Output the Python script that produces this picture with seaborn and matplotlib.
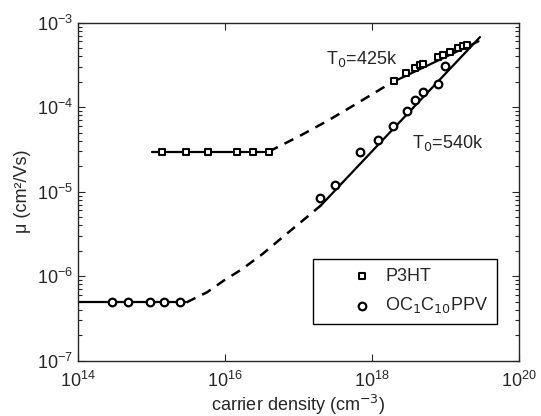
#!/usr/bin/env python3

import numpy as np
import pandas as pd
import seaborn as sns
import matplotlib.pyplot as plt

# values as log10 of density / mobility
p3ht_logn = [15.15, 15.48, 15.77, 16.17, 16.39, 16.60,
             18.30, 18.47, 18.59, 18.65, 18.70, 18.90, 18.97, 19.06, 19.17, 19.24, 19.30]
p3ht_logmu = [-4.525, -4.525, -4.525, -4.525, -4.525, -4.525,
              -3.686, -3.60, -3.54, -3.50, -3.49, -3.41, -3.38, -3.35, -3.30, -3.28, -3.26]

ppv_logn = [14.47, 14.69, 14.99, 15.18, 15.39,
            17.30, 17.50, 17.84, 18.08, 18.29, 18.48, 18.59, 18.69, 18.90, 18.99]
ppv_logmu = [-6.31, -6.31, -6.31, -6.31, -6.31,
             -5.08, -4.92, -4.525, -4.39, -4.22, -4.04, -3.92, -3.82, -3.72, -3.51]

# fit lines (solid) and model curves (dashed)
p3ht_flat_logn = [15.01, 16.60]
p3ht_flat_logmu = [-4.525, -4.525]
p3ht_fit_logn = [18.29, 19.45]
p3ht_fit_logmu = [-3.70, -3.22]
p3ht_dash_logn = [16.60, 17.02, 17.40, 17.77, 18.15, 18.29]
p3ht_dash_logmu = [-4.525, -4.34, -4.16, -3.97, -3.77, -3.70]

ppv_flat_logn = [14.0, 15.48]
ppv_flat_logmu = [-6.31, -6.31]
ppv_fit_logn = [17.31, 19.47]
ppv_fit_logmu = [-5.16, -3.17]
ppv_dash_logn = [15.48, 15.76, 15.99, 16.23, 16.51, 16.84, 17.16, 17.31]
ppv_dash_logmu = [-6.31, -6.19, -6.05, -5.92, -5.74, -5.50, -5.27, -5.16]


def frame(logn, logmu):
    return pd.DataFrame({"n": np.power(10.0, logn), "mu": np.power(10.0, logmu)})


sns.set_style("ticks")
plt.rcParams["font.family"] = ["Liberation Sans", "DejaVu Sans"]
plt.rcParams["font.size"] = 13
plt.rcParams["xtick.direction"] = "in"
plt.rcParams["ytick.direction"] = "in"

fig = plt.figure(figsize=(5.41, 4.16), dpi=100)
ax = fig.add_axes([0.1433, 0.1329, 0.816, 0.8125])
ax.set_xscale("log")
ax.set_yscale("log")

line_kw = dict(x="n", y="mu", color="black", sort=False, estimator=None, ax=ax, legend=False)
for xs, ys in [(p3ht_flat_logn, p3ht_flat_logmu), (p3ht_fit_logn, p3ht_fit_logmu),
               (ppv_flat_logn, ppv_flat_logmu), (ppv_fit_logn, ppv_fit_logmu)]:
    sns.lineplot(data=frame(xs, ys), linewidth=1.6, **line_kw)
for xs, ys in [(p3ht_dash_logn, p3ht_dash_logmu), (ppv_dash_logn, ppv_dash_logmu)]:
    sns.lineplot(data=frame(xs, ys), linewidth=1.8, linestyle=(0, (4, 3)), **line_kw)

sns.scatterplot(data=frame(p3ht_logn, p3ht_logmu), x="n", y="mu", marker="s", s=18,
                facecolor="white", edgecolor="black", linewidth=1.5, ax=ax, label="P3HT", zorder=3)
sns.scatterplot(data=frame(ppv_logn, ppv_logmu), x="n", y="mu", marker="o", s=30,
                facecolor="white", edgecolor="black", linewidth=1.6, ax=ax,
                label="OC$_1$C$_{10}$PPV", zorder=3)

ax.text(10 ** 17.375, 10 ** -3.43, "T$_0$=425k", fontsize=13, va="center", ha="left")
ax.text(10 ** 18.55, 10 ** -4.42, "T$_0$=540k", fontsize=13, va="center", ha="left")

ax.set_xlim(1e14, 1e20)
ax.set_ylim(1e-7, 1e-3)
ax.set_xticks([1e14, 1e16, 1e18, 1e20])
ax.xaxis.set_minor_locator(plt.NullLocator())
ax.tick_params(which="both", top=True, right=True, labelsize=13, width=0.8)
ax.tick_params(which="major", length=5)
ax.tick_params(which="minor", length=3)
ax.tick_params(axis="x", pad=7)
for s in ax.spines.values():
    s.set_linewidth(1.0)

ax.set_xlabel("carrier density (cm$^{-3}$)", fontsize=13, labelpad=2)
ax.set_ylabel("μ (cm²/Vs)", fontsize=13, labelpad=4)

leg = ax.legend(loc="lower left", bbox_to_anchor=(0.534, 0.11), fancybox=False,
                edgecolor="black", framealpha=1, fontsize=13, borderpad=0.45,
                handlelength=4.5, handletextpad=-0.95, labelspacing=0.6, borderaxespad=0)
leg.get_frame().set_linewidth(1.0)

fig.savefig("out.png", dpi=100)
